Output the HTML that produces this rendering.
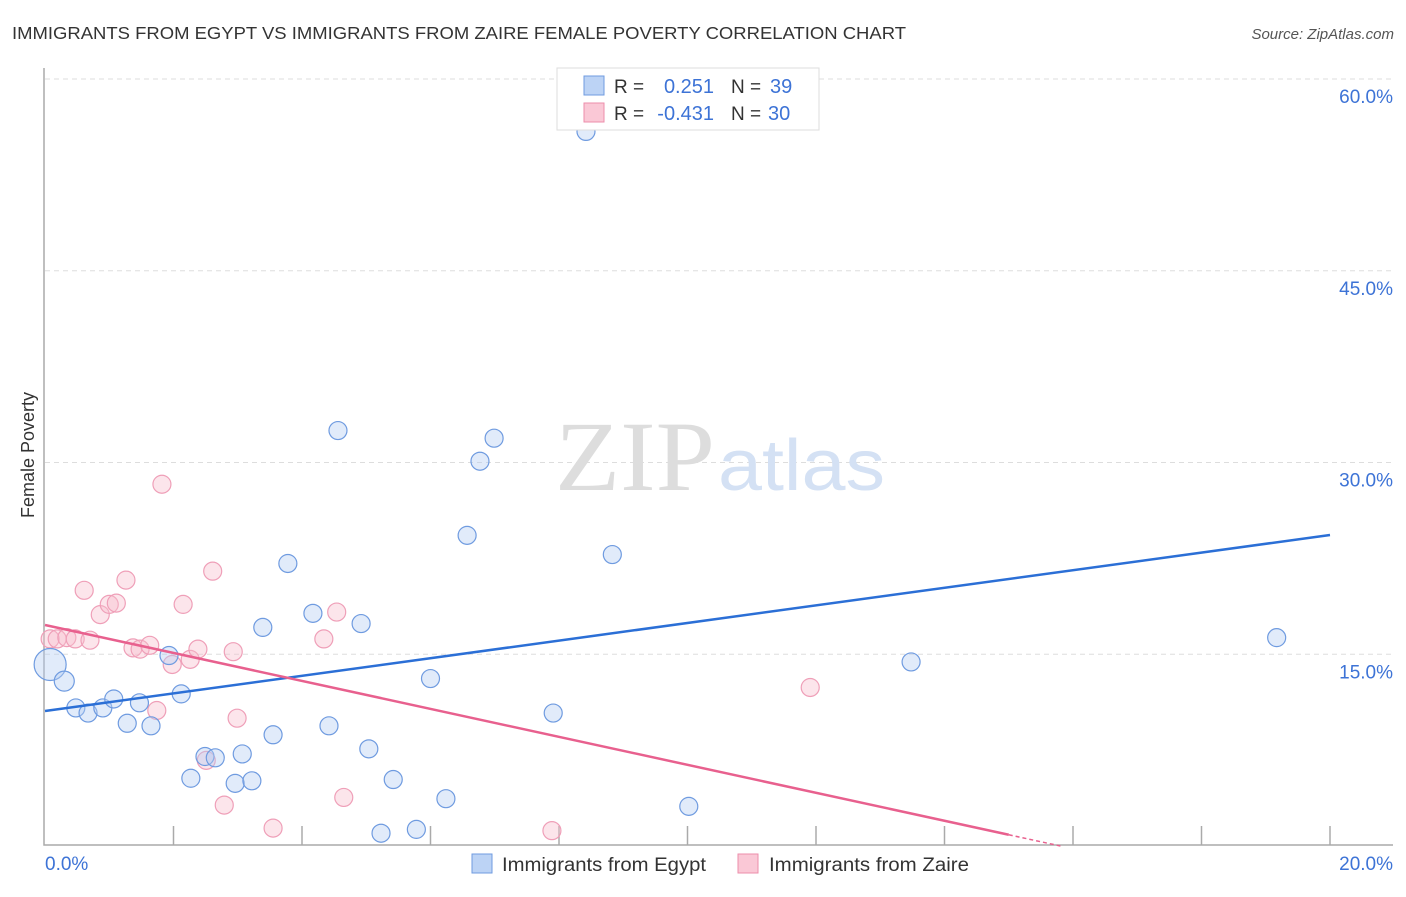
<!DOCTYPE html>
<html><head><meta charset="utf-8"><style>
body{margin:0;background:#fff;font-family:"Liberation Sans",sans-serif}
svg text{font-family:"Liberation Sans",sans-serif}
</style></head><body>
<svg width="1406" height="892" viewBox="0 0 1406 892">
<text x="12" y="39" font-size="17.5" fill="#333" textLength="894" lengthAdjust="spacingAndGlyphs">IMMIGRANTS FROM EGYPT VS IMMIGRANTS FROM ZAIRE FEMALE POVERTY CORRELATION CHART</text>
<text x="1394" y="39" font-size="15" fill="#555" font-style="italic" text-anchor="end">Source: ZipAtlas.com</text>
<text x="34" y="455" font-size="18" fill="#333" text-anchor="middle" transform="rotate(-90 34 455)">Female Poverty</text>
<g id="grid"></g>
<text x="715" y="490" font-size="100" fill="#ddd" text-anchor="end" textLength="160" lengthAdjust="spacingAndGlyphs" style="font-family:'Liberation Serif',serif">ZIP</text>
<text x="718" y="490" font-size="72" fill="#d4e1f4" textLength="167" lengthAdjust="spacingAndGlyphs">atlas</text>
<g id="pts"></g>
<g id="lines"></g>
<g>
<rect x="557" y="68" width="262" height="62" fill="#fff" stroke="#ddd"/>
<rect x="584" y="76" width="20" height="19" fill="#bcd3f5" stroke="#6f9be0"/>
<rect x="584" y="103" width="20" height="19" fill="#fac8d6" stroke="#ec8eab"/>
<text x="614" y="93" font-size="19" fill="#333">R =</text><text x="714" y="93" font-size="20" fill="#3d73d6" text-anchor="end">0.251</text>
<text x="731" y="93" font-size="19" fill="#333">N =</text><text x="770" y="93" font-size="20" fill="#3d73d6">39</text>
<text x="614" y="120" font-size="19" fill="#333">R =</text><text x="714" y="120" font-size="20" fill="#3d73d6" text-anchor="end">-0.431</text>
<text x="731" y="120" font-size="19" fill="#333">N =</text><text x="768" y="120" font-size="20" fill="#3d73d6">30</text>
</g>
<g>
<rect x="472" y="854" width="20" height="19" fill="#bcd3f5" stroke="#6f9be0"/>
<text x="502" y="871" font-size="19" fill="#333" textLength="204" lengthAdjust="spacingAndGlyphs">Immigrants from Egypt</text>
<rect x="738" y="854" width="20" height="19" fill="#fac8d6" stroke="#ec8eab"/>
<text x="769" y="871" font-size="19" fill="#333" textLength="200" lengthAdjust="spacingAndGlyphs">Immigrants from Zaire</text>
</g>
</svg>
<script>
const xTicks=[0,20];
const yTicks=[15,30,45,60];
const egyptX=[0.08,0.3,0.48,0.67,0.9,1.07,1.28,1.47,1.65,1.93,2.12,2.27,2.49,2.65,2.96,3.07,3.22,3.39,3.55,3.78,4.17,4.42,4.56,4.92,5.04,5.23,5.42,5.78,6.0,6.24,6.57,6.77,6.99,7.91,8.42,8.83,10.02,13.48,19.17];
const egyptY=[14.2,12.9,10.8,10.4,10.8,11.5,9.6,11.2,9.4,14.9,11.9,5.3,7.0,6.9,4.9,7.2,5.1,17.1,8.7,22.1,18.2,9.4,32.5,17.4,7.6,1.0,5.2,1.3,13.1,3.7,24.3,30.1,31.9,10.4,55.9,22.8,3.1,14.4,16.3];
const egyptR=[16,10,9,9,9,9,9,9,9,9,9,9,9,9,9,9,9,9,9,9,9,9,9,9,9,9,9,9,9,9,9,9,9,9,9,9,9,9,9];
const zaireX=[0.08,0.19,0.34,0.47,0.61,0.7,0.86,1.0,1.11,1.26,1.37,1.48,1.63,1.74,1.82,1.98,2.15,2.26,2.38,2.51,2.61,2.79,2.93,2.99,3.55,4.54,4.34,4.65,7.89,11.91];
const zaireY=[16.2,16.2,16.3,16.2,20.0,16.1,18.1,18.9,19.0,20.8,15.5,15.4,15.7,10.6,28.3,14.2,18.9,14.6,15.4,6.7,21.5,3.2,15.2,10.0,1.4,18.3,16.2,3.8,1.2,12.4];
const egyptLine=[10.56,24.33];
const zaireLine=[17.29,-1.094];
const NS="http://www.w3.org/2000/svg";
const X=v=>45+v/20*1285, Y=v=>846-v/60*767;
function mk(t,a,p){const e=document.createElementNS(NS,t);for(const k in a)e.setAttribute(k,a[k]);p.appendChild(e);return e;}
const g=document.getElementById('grid');
for(const t of yTicks){const l=mk('line',{x1:45,x2:1393,y1:Y(t),y2:Y(t),stroke:'#ddd','stroke-dasharray':'5,4'},g);


const tx=mk('text',{x:1393,y:Y(t)+24,'font-size':19,fill:'#3d73d6','text-anchor':'end'},g);tx.textContent=t.toFixed(1)+'%';

}
const ax=mk('path',{d:'M44,68 V845 H1393',fill:'none',stroke:'#aaa','stroke-width':1.5},g);


for(let i=1;i<=10;i++){const tk=mk('line',{x1:45+i*128.5,x2:45+i*128.5,y1:826,y2:845,stroke:'#aaa','stroke-width':1.5},g);

}
xTicks.forEach((t,i)=>{const tx=mk('text',{x:i?1393:45,y:870,'font-size':19,fill:'#3d73d6','text-anchor':i?'end':'start'},g);tx.textContent=t.toFixed(1)+'%';

});
const p=document.getElementById('pts');
zaireX.forEach((v,i)=>{const c=mk('circle',{cx:X(v),cy:Y(zaireY[i]),r:9,fill:'rgba(248,190,206,0.4)',stroke:'#ef9fb8','stroke-width':1.2},p);

});
egyptX.forEach((v,i)=>{const c=mk('circle',{cx:X(v),cy:Y(egyptY[i]),r:egyptR[i],fill:'rgba(180,205,242,0.4)',stroke:'#6f9be0','stroke-width':1.2},p);

});
const L=document.getElementById('lines');
const bl=mk('line',{x1:X(0),y1:Y(egyptLine[0]),x2:X(20),y2:Y(egyptLine[1]),stroke:'#2b6fd6','stroke-width':2.5},L);


const zx=-zaireLine[0]/zaireLine[1], sx=Math.min(15,zx);
const pl=mk('line',{x1:X(0),y1:Y(zaireLine[0]),x2:X(sx),y2:Y(zaireLine[0]+zaireLine[1]*sx),stroke:'#e8608e','stroke-width':2.5},L);


const pd=mk('line',{x1:X(sx),y1:Y(zaireLine[0]+zaireLine[1]*sx),x2:X(zx),y2:Y(0),stroke:'#e8608e','stroke-width':1.5,'stroke-dasharray':'4,3'},L);


</script>
</body></html>
